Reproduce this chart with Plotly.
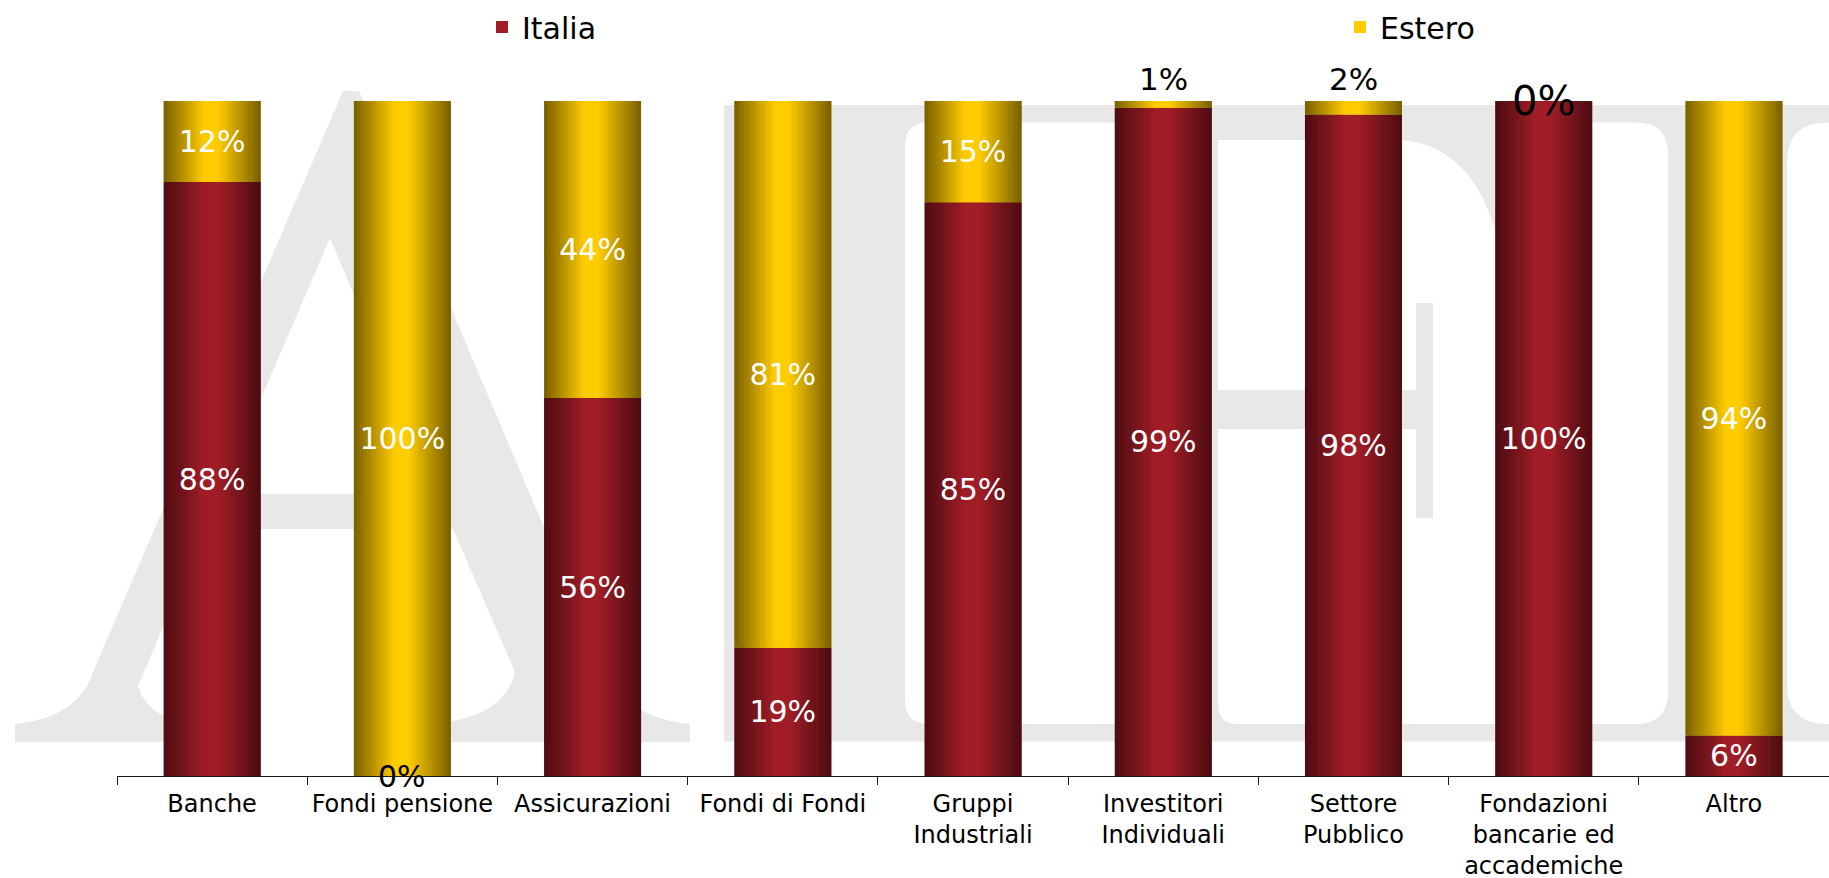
import plotly.graph_objects as go

# --- data -------------------------------------------------------------
categories = [
    "Banche",
    "Fondi pensione",
    "Assicurazioni",
    "Fondi di Fondi",
    "Gruppi<br>Industriali",
    "Investitori<br>Individuali",
    "Settore<br>Pubblico",
    "Fondazioni<br>bancarie ed<br>accademiche",
    "Altro",
]
italia = [88, 0, 56, 19, 85, 99, 98, 100, 6]
estero = [12, 100, 44, 81, 15, 1, 2, 0, 94]
series_names = ["Italia", "Estero"]

# --- layout constants -------------------------------------------------
W, H = 1829, 878
ML, MR, MT, MB = 117, 0, 101, 102
PW = W - ML - MR
PH = H - MT - MB
FONT = "DejaVu Sans"

BAR_W = 0.51
N_SLICES = 30

RED = ((0x4C, 0x0C, 0x11), (0xA0, 0x1D, 0x27))
GOLD = ((0x78, 0x5F, 0x00), (0xFF, 0xCC, 0x00))
WM_GREY = "#e8e8e8"


def shade(pair, u):
    # dark edges, bright band slightly left of centre (cylinder look)
    dark, light = pair
    if u < 0.42:
        t = u / 0.42
    elif u > 0.56:
        t = (1 - u) / 0.44
    else:
        t = 1.0
    c = [round(d + (l - d) * t) for d, l in zip(dark, light)]
    return "rgb(%d,%d,%d)" % tuple(c)


def to_paper(path):
    out = []
    for tok in path.split():
        if "," in tok:
            x, y = (float(v) for v in tok.split(","))
            out.append(f"{(x - ML) / PW:.5f},{(H - MB - y) / PH:.5f}")
        else:
            out.append(tok)
    return " ".join(out)


def rrect(x0, y0, x1, y1, tl=0, tr=0, br=0, bl=0):
    return (
        f"M {x0},{y0 + tl} Q {x0},{y0} {x0 + tl},{y0} L {x1 - tr},{y0} "
        f"Q {x1},{y0} {x1},{y0 + tr} L {x1},{y1 - br} Q {x1},{y1} {x1 - br},{y1} "
        f"L {x0 + bl},{y1} Q {x0},{y1} {x0},{y1 - bl} Z"
    )


fig = go.Figure()

bases = [[0] * len(italia), italia]
values = [italia, estero]
palettes = [RED, GOLD]
legend_widths = [813, 120]

# gradient bars built from thin overlapping slices
step = BAR_W / N_SLICES
mid = N_SLICES // 2 - 1
for name, vals, base, pal, lw in zip(series_names, values, bases, palettes, legend_widths):
    for k in range(N_SLICES):
        off = -BAR_W / 2 + k * step
        wid = min(2 * step, BAR_W / 2 - off)
        fig.add_trace(
            go.Bar(
                x=categories,
                y=vals,
                base=base,
                width=wid,
                offset=off,
                name=name,
                legendgroup=name,
                showlegend=(k == mid),
                legendwidth=lw,
                marker=dict(color=shade(pal, (k + 0.5) / N_SLICES), line=dict(width=0)),
                hoverinfo="skip",
            )
        )

# labels on the segments
for name, vals, base in zip(series_names, values, bases):
    fig.add_trace(
        go.Bar(
            x=categories,
            y=vals,
            base=base,
            width=BAR_W,
            marker=dict(color="rgba(0,0,0,0)", line=dict(width=0)),
            text=[f"{v}%" if v >= 5 else "" for v in vals],
            textposition="inside",
            insidetextanchor="middle",
            textangle=0,
            constraintext="none",
            textfont=dict(color="white", size=30, family=FONT),
            showlegend=False,
            name=name,
            hovertemplate="%{x}: %{y}%<extra>" + name + "</extra>",
        )
    )

annotations = []
for vals, base in zip(values, bases):
    for cat, v, b in zip(categories, vals, base):
        if v >= 5:
            continue
        if v == 0:
            annotations.append(
                dict(x=cat, y=b, text=f"{v}%", showarrow=False, yanchor="middle",
                     font=dict(size=40 if b == 100 else 30, color="black", family=FONT))
            )
        else:
            annotations.append(
                dict(x=cat, y=b + v, text=f"{v}%", showarrow=False, yanchor="bottom",
                     yshift=2, font=dict(size=31, color="black", family=FONT))
            )

# watermark in the background
a_path = (
    "M 15,742 L 15,724 Q 78,718 93,672 L 343,91 L 359,91 L 590,636 "
    "Q 612,718 690,724 L 690,742 L 430,742 L 430,724 Q 505,718 515,672 "
    "L 453,529 L 205,529 L 138,686 Q 148,718 190,724 L 240,724 L 240,742 Z "
    "M 330,238 L 220,494 L 438,494 Z"
)
grey_paths = [a_path, rrect(724, 105, 1835, 741.5)]
white_paths = [
    rrect(905, 122.5, 1150, 724, tl=24, tr=24, br=24, bl=24),
    "M 1218,140 L 1401,140 Q 1478,146 1500,250 L 1530,250 L 1530,724 "
    "L 1238,724 Q 1218,724 1218,704 Z",
    rrect(1510, 122.5, 1668, 724, tr=32, br=32),
    rrect(1787, 122.5, 1900, 724, tl=40, bl=40),
]
serif_paths = [rrect(1210, 390, 1433, 429), rrect(1416, 303, 1433, 518)]

shapes = []
for paths, col in ((grey_paths, WM_GREY), (white_paths, "white"), (serif_paths, WM_GREY)):
    for p in paths:
        shapes.append(
            dict(type="path", path=to_paper(p), xref="paper", yref="paper",
                 fillcolor=col, line=dict(width=0), layer="below")
        )

fig.update_layout(
    width=W,
    height=H,
    barmode="overlay",
    margin=dict(l=ML, r=MR, t=MT, b=MB, autoexpand=False),
    paper_bgcolor="white",
    plot_bgcolor="rgba(0,0,0,0)",
    font=dict(family=FONT, color="black"),
    shapes=shapes,
    annotations=annotations,
    legend=dict(
        orientation="h",
        x=(482 - ML) / PW,
        xanchor="left",
        yref="container",
        y=1 - 27 / H,
        yanchor="middle",
        entrywidthmode="pixels",
        font=dict(size=30, family=FONT),
        bgcolor="rgba(0,0,0,0)",
    ),
)

fig.update_xaxes(
    showline=True,
    linecolor="#1a1a1a",
    linewidth=1,
    ticks="outside",
    tickson="boundaries",
    ticklen=8,
    tickcolor="#1a1a1a",
    tickangle=0,
    ticklabelstandoff=6,
    showgrid=False,
    tickfont=dict(size=24, family=FONT, color="black"),
)
fig.update_yaxes(
    range=[0, 100],
    visible=False,
    showgrid=False,
    zeroline=False,
)

# the page's default 8px body margin would shift the whole figure
fig.write_html(
    "out.html",
    config={"displayModeBar": False},
    post_script="document.body.style.margin = '0px';",
)
